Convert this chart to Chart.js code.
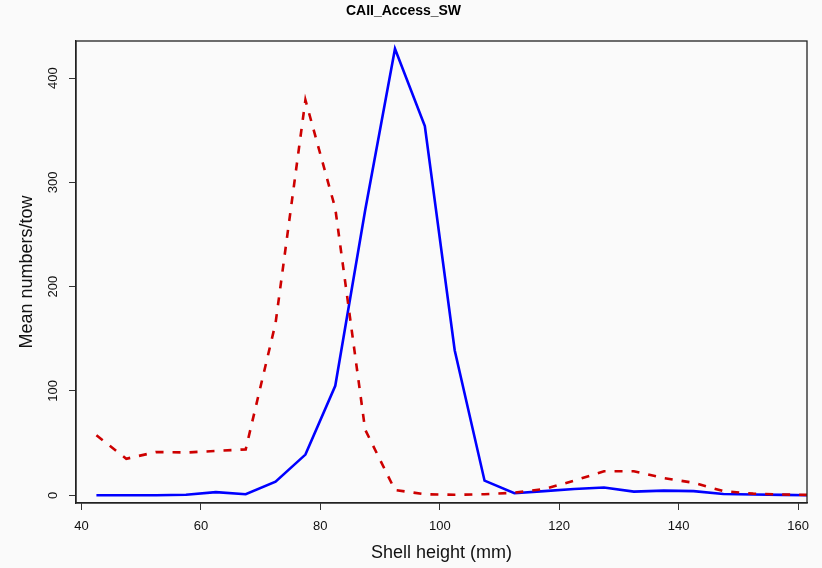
<!DOCTYPE html>
<html>
<head>
<meta charset="utf-8">
<script src="https://cdn.jsdelivr.net/npm/chart.js@4.4.0/dist/chart.umd.min.js"></script>
<style>
html,body{margin:0;padding:0;background:#fafafa;}
canvas{display:block;}
</style>
</head>
<body>
<canvas id="c" width="822" height="568"></canvas>
<script>
// Shell height bins (mm)
const shellHeights = [42.5, 47.5, 52.5, 57.5, 62.5, 67.5, 72.5, 77.5, 82.5, 87.5, 92.5, 97.5, 102.5,
                      107.5, 112.5, 117.5, 122.5, 127.5, 132.5, 137.5, 142.5, 147.5, 152.5, 157.5, 162.5];
// Solid blue series (mean numbers/tow)
const solidSeries = [0, 0, 0, 0.5, 3, 1, 13, 39, 105, 273, 428, 354, 139,
                     14, 2, 4, 6, 7.5, 3.5, 4.5, 4, 1.3, 0.8, 0.4, 0];
// Dashed red series (mean numbers/tow)
const dashedSeries = [57.5, 35, 41.5, 41, 42.5, 44, 165, 379, 275, 63, 5, 1, 0.5,
                      1, 2.5, 6, 14, 23, 23, 16.5, 12, 4, 1.6, 0.7, 0.3];
// Tick labels
const xTickValues = [40, 60, 80, 100, 120, 140, 160];
const yTickValues = [0, 100, 200, 300, 400];
const chartTitle = 'CAII_Access_SW';
const xTitle = 'Shell height (mm)';
const yTitle = 'Mean numbers/tow';

const FONT = '"Liberation Sans", Arial, Helvetica, sans-serif';

const boxPlugin = {
  id: 'box',
  afterDraw(chart) {
    const {ctx, chartArea: a} = chart;
    ctx.save();
    ctx.strokeStyle = '#222';
    ctx.lineWidth = 1.3;
    ctx.strokeRect(a.left, a.top, a.right - a.left, a.bottom - a.top);
    ctx.restore();
  }
};

const toPoints = (ys) => shellHeights.map((x, i) => ({x: x, y: ys[i]}));

new Chart(document.getElementById('c'), {
  type: 'scatter',
  data: {
    datasets: [
      {
        data: toPoints(dashedSeries),
        showLine: true,
        borderColor: '#CD0000',
        borderWidth: 2.6,
        borderDash: [8, 9],
        pointRadius: 0,
        tension: 0,
        fill: false
      },
      {
        data: toPoints(solidSeries),
        showLine: true,
        borderColor: '#0000FF',
        borderWidth: 2.6,
        pointRadius: 0,
        tension: 0,
        fill: false
      }
    ]
  },
  options: {
    responsive: false,
    animation: false,
    devicePixelRatio: 1,
    layout: {padding: {left: 0, right: 15, top: 0, bottom: 0}},
    plugins: {
      legend: {display: false},
      tooltip: {enabled: false},
      title: {
        display: true,
        text: chartTitle,
        color: '#000',
        font: {family: FONT, size: 14, weight: 'bold'},
        padding: {top: 3, bottom: 21.2}
      }
    },
    scales: {
      x: {
        type: 'linear',
        min: 39.08,
        max: 161.5,
        afterBuildTicks: (s) => { s.ticks = xTickValues.map(v => ({value: v})); },
        afterFit: (s) => { s.height = 65; },
        grid: {display: true, drawOnChartArea: false, drawTicks: true, tickLength: 7, color: '#333', lineWidth: 1},
        border: {display: true, color: '#222', width: 1.3},
        ticks: {font: {family: FONT, size: 13}, color: '#111', padding: 9, maxRotation: 0, autoSkip: false},
        title: {display: true, text: xTitle, color: '#111', font: {family: FONT, size: 18}, padding: {top: 0, bottom: 4}}
      },
      y: {
        type: 'linear',
        min: -7.4,
        max: 435.5,
        afterBuildTicks: (s) => { s.ticks = yTickValues.map(v => ({value: v})); },
        afterFit: (s) => { s.width = 76; },
        grid: {display: true, drawOnChartArea: false, drawTicks: true, tickLength: 7, color: '#333', lineWidth: 1},
        border: {display: true, color: '#222', width: 1.3},
        ticks: {font: {family: FONT, size: 13}, color: '#111', padding: 5, minRotation: 90, maxRotation: 90, crossAlign: 'center', autoSkip: false},
        title: {display: true, text: yTitle, color: '#111', font: {family: FONT, size: 18}, padding: {top: 16, bottom: 0}}
      }
    }
  },
  plugins: [boxPlugin]
});
</script>
</body>
</html>
